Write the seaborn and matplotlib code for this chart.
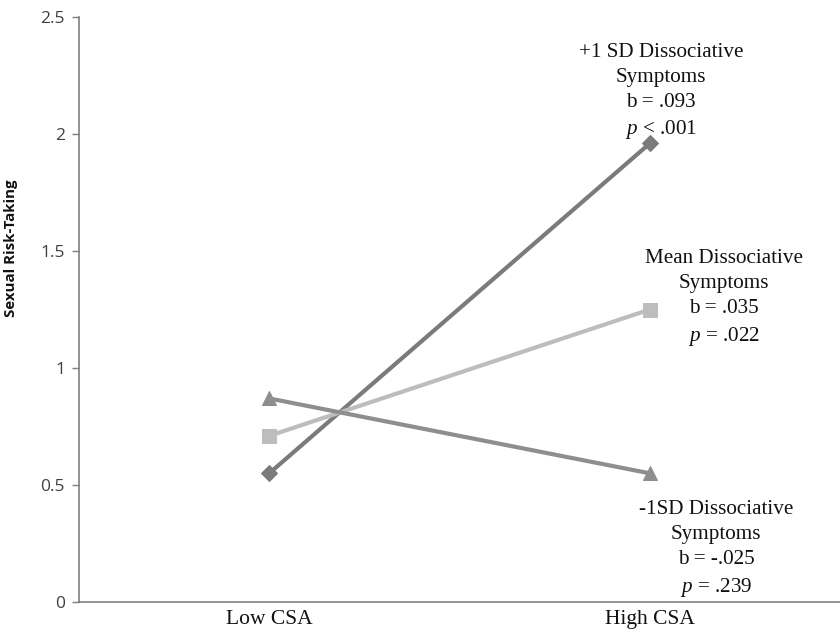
import matplotlib
matplotlib.use('Agg')
import matplotlib.pyplot as plt
import seaborn as sns
import pandas as pd

# data
csa_levels = ['Low CSA', 'High CSA']
plus_1sd = [0.55, 1.96]
mean_diss = [0.71, 1.25]
minus_1sd = [0.87, 0.55]

series_names = ['+1 SD', 'Mean', '-1 SD']
series_values = [plus_1sd, mean_diss, minus_1sd]
series_colors = ['#7b7b7b', '#bdbdbd', '#8e8e8e']
series_markers = ['D', 's', '^']
series_msize = [8.5, 10, 10.5]

labels = [
    '+1 SD Dissociative\nSymptoms\nb = .093\n$p$ < .001',
    'Mean Dissociative\nSymptoms\nb = .035\n$p$ = .022',
    '-1SD Dissociative\nSymptoms\nb = -.025\n$p$ = .239',
]
label_pos = [(1.03, 2.18), (1.195, 1.297), (1.175, 0.226)]

sns.set_style('white')
plt.rcParams['font.family'] = ['Liberation Serif', 'DejaVu Serif']
plt.rcParams['mathtext.fontset'] = 'custom'
plt.rcParams['mathtext.rm'] = 'Liberation Serif'
plt.rcParams['mathtext.it'] = 'Liberation Serif:italic'

fig = plt.figure(figsize=(8.4, 6.34), dpi=100)
ax = fig.add_axes([0.094, 0.0505, 0.906, 0.9225])

for name, vals, col, mk, ms in zip(series_names, series_values, series_colors, series_markers, series_msize):
    df = pd.DataFrame({'csa': csa_levels, 'risk': vals})
    sns.lineplot(data=df, x='csa', y='risk', color=col, marker=mk, markersize=ms,
                 markeredgecolor=col, linewidth=3, ax=ax, label=None)

for txt, (x, y) in zip(labels, label_pos):
    ax.text(x, y, txt, ha='center', va='center', fontsize=15.2, linespacing=1.43, color='#111111')

ax.set_xlim(-0.5, 1.487)
ax.set_ylim(0, 2.5)
ax.set_yticks([0, 0.5, 1, 1.5, 2, 2.5])
ax.set_yticklabels(['0', '0.5', '1', '1.5', '2', '2.5'], family='Open Sans', fontsize=12.5, color='#404040')
ax.set_xticks([0, 1])
ax.set_xticklabels(csa_levels, fontsize=15.5, color='#111111')
ax.set_xticks([-0.5, 0.5, 1.5], minor=True)
ax.tick_params(axis='x', which='major', length=0, pad=6)
ax.tick_params(axis='x', which='minor', length=5, direction='out', color='#7f7f7f', width=1)
ax.tick_params(axis='y', length=5, direction='out', color='#7f7f7f', width=1, left=True, pad=5)

ax.set_xlabel('')
ax.set_ylabel('Sexual Risk-Taking', family='Open Sans', fontweight='bold', fontsize=10.8, color='#111111')
ax.yaxis.set_label_coords(-0.08, 0.605)

for side in ['top', 'right']:
    ax.spines[side].set_visible(False)
for side in ['left', 'bottom']:
    ax.spines[side].set_color('#7f7f7f')
    ax.spines[side].set_linewidth(1.2)

if ax.get_legend() is not None:
    ax.get_legend().remove()

plt.savefig('out.png', dpi=100)
